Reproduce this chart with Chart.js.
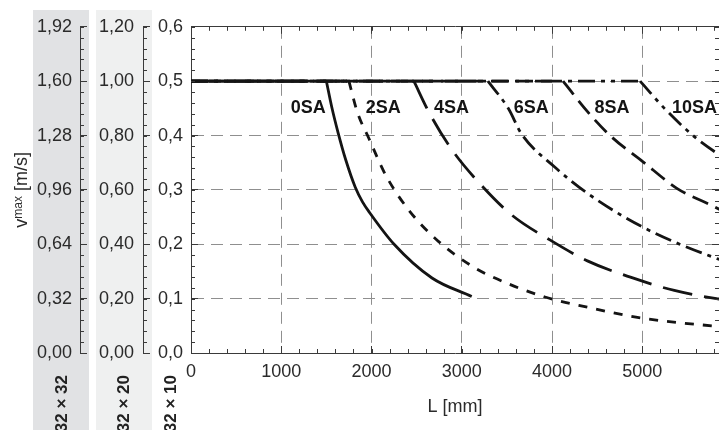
<!DOCTYPE html>
<html><head><meta charset="utf-8">
<script src="https://cdn.jsdelivr.net/npm/chart.js@4.4.1/dist/chart.umd.min.js"></script>
<style>
html,body{margin:0;padding:0;background:#fff;overflow:hidden;width:719px;height:430px;}
canvas{display:block;}
</style></head><body>
<canvas id="c" width="719" height="430"></canvas>
<script>
// ---------------- data ----------------
const SERIES_NAMES = ['0SA', '2SA', '4SA', '6SA', '8SA', '10SA'];
const L_0SA  = [0, 1500, 1560, 1630, 1715, 1820, 1900, 1980, 2250, 2670, 3110];
const V_0SA  = [0.5, 0.5, 0.452, 0.405, 0.355, 0.305, 0.278, 0.258, 0.20, 0.138, 0.104];
const L_2SA  = [0, 1750, 1841, 1970, 2161, 2412, 2724, 3111, 3313, 3920, 4400, 5000, 5822, 6000];
const V_2SA  = [0.5, 0.5, 0.444, 0.395, 0.326, 0.263, 0.208, 0.160, 0.142, 0.103, 0.084, 0.064, 0.049, 0.046];
const L_4SA  = [0, 2470, 2633, 2890, 3203, 3552, 3976, 4398, 4877, 5355, 5822, 6000];
const V_4SA  = [0.5, 0.5, 0.444, 0.374, 0.311, 0.254, 0.208, 0.169, 0.139, 0.115, 0.100, 0.096];
const L_6SA  = [0, 3290, 3515, 3662, 4030, 4398, 5000, 5822, 6000];
const V_6SA  = [0.5, 0.5, 0.450, 0.403, 0.342, 0.293, 0.232, 0.174, 0.165];
const L_8SA  = [0, 4122, 4398, 4656, 4998, 5392, 5760, 6000];
const V_8SA  = [0.5, 0.5, 0.443, 0.398, 0.353, 0.302, 0.272, 0.252];
const L_10SA = [0, 4976, 5245, 5576, 5822, 6000];
const V_10SA = [0.5, 0.5, 0.450, 0.398, 0.368, 0.350];

const X_TICK_VALUES  = [0, 1000, 2000, 3000, 4000, 5000];
const X_TICK_LABELS  = ['0', '1000', '2000', '3000', '4000', '5000'];
const Y_TICK_LABELS  = ['0,0', '0,1', '0,2', '0,3', '0,4', '0,5', '0,6'];
const YB_TICK_LABELS = ['0,00', '0,20', '0,40', '0,60', '0,80', '1,00', '1,20'];
const YA_TICK_LABELS = ['0,00', '0,32', '0,64', '0,96', '1,28', '1,60', '1,92'];
const SIZE_LABELS = ['32 × 32', '32 × 20', '32 × 10'];
const X_TITLE = 'L [mm]';
const Y_TITLE = ['v', 'max', ' [m/s]'];

// label anchors in data units (mm, m/s)
const LABEL_L = [1104, 1937, 2693, 3576, 4470, 5330];
const LABEL_V = 0.45;

// ---------------- styles ----------------
const FONT = '"Liberation Sans", Arial, Helvetica, sans-serif';
const TXT = '#2a2a2a';
const AXIS = '#3a3a3a';
const GRID = '#8f8f8f';
const INK = '#141414';
const DASHES = [[], [9, 9], [30, 12], [17, 6, 4, 6], [17, 8], [17, 6, 4, 6, 4, 6]];
const X_MAX = 5850;

function series(L, V) {
  const d = [{x: L[0], y: V[0]}, {x: L[1], y: V[1]}, {x: L[1], y: null}];
  for (let i = 1; i < L.length; i++) d.push({x: L[i], y: V[i]});
  return d;
}
const SERIES = [[L_0SA, V_0SA], [L_2SA, V_2SA], [L_4SA, V_4SA], [L_6SA, V_6SA], [L_8SA, V_8SA], [L_10SA, V_10SA]];

const datasets = SERIES.map((s, i) => ({
  label: SERIES_NAMES[i],
  data: series(s[0], s[1]),
  borderColor: INK,
  borderWidth: 2.8,
  borderDash: DASHES[i],
  pointRadius: 0,
  pointHoverRadius: 0,
  pointBorderWidth: 0,
  fill: false,
  spanGaps: false,
  cubicInterpolationMode: 'monotone',
  xAxisID: 'x', yAxisID: 'y'
}));

const fixW = w => s => { s.width = w; };
const fixH = h => s => { s.height = h; };
const xTicks = s => { s.ticks = X_TICK_VALUES.map(v => ({value: v})); };
const gridColorX = c => (c.tick && c.tick.value > 0) ? GRID : 'rgba(0,0,0,0)';
const gridColorY = c => (c.tick && c.index > 0 && c.index < 6) ? GRID : 'rgba(0,0,0,0)';
const tickFont = {family: FONT, size: 18};

function axisCommon(extra) {
  return Object.assign({
    type: 'linear',
    border: {display: true, color: AXIS, width: 1, dash: [12, 7]},
  }, extra);
}

const bands = {
  id: 'bands',
  beforeDraw(chart) {
    const ctx = chart.ctx;
    const a = chart.scales.yA, b = chart.scales.yB;
    ctx.save();
    ctx.fillStyle = '#e1e2e4';
    ctx.fillRect(a.right - 47, 10, 56, chart.height);
    ctx.fillStyle = '#eff0f0';
    ctx.fillRect(b.right - 47, 10, 56, chart.height);
    ctx.restore();
  }
};

const minorTicks = {
  id: 'minorTicks',
  afterDraw(chart) {
    const ctx = chart.ctx;
    ctx.save();
    ctx.strokeStyle = AXIS;
    ctx.lineWidth = 1;
    const defs = [['x', 200], ['x2', 200], ['y', 0.02], ['y2', 0.02], ['yA', 0.064], ['yB', 0.04]];
    for (const [id, step] of defs) {
      const s = chart.scales[id];
      const n = Math.floor((s.max - s.min) / step + 1e-6);
      for (let i = 0; i <= n; i++) {
        const v = s.min + i * step;
        const p = Math.round(s.getPixelForValue(v)) + 0.5;
        ctx.beginPath();
        if (id === 'x') { ctx.moveTo(p, s.top); ctx.lineTo(p, s.top - 4); }
        else if (id === 'x2') { ctx.moveTo(p, s.bottom); ctx.lineTo(p, s.bottom + 4); }
        else if (id === 'y2') { ctx.moveTo(s.left, p); ctx.lineTo(s.left - 4, p); }
        else { ctx.moveTo(s.right, p); ctx.lineTo(s.right + 4, p); }
        ctx.stroke();
      }
    }
    ctx.restore();
  }
};

const annotations = {
  id: 'annotations',
  afterDraw(chart) {
    const ctx = chart.ctx;
    const x = chart.scales.x, y = chart.scales.y;
    ctx.save();
    // series labels
    ctx.fillStyle = INK;
    ctx.font = 'bold 18px ' + FONT;
    ctx.textAlign = 'left';
    ctx.textBaseline = 'middle';
    SERIES_NAMES.forEach((n, i) => {
      ctx.fillText(n, x.getPixelForValue(LABEL_L[i]), y.getPixelForValue(LABEL_V));
    });
    // size labels under the axes
    const sc = [[chart.scales.yA, 18], [chart.scales.yB, 19], [chart.scales.y, 20]];
    ctx.font = 'bold 17px ' + FONT;
    ctx.fillStyle = '#222';
    ctx.textAlign = 'right';
    sc.forEach(([s, dx], i) => {
      ctx.save();
      ctx.translate(s.right - dx, chart.chartArea.bottom + 22);
      ctx.rotate(-Math.PI / 2);
      ctx.fillText(SIZE_LABELS[i], 0, 0);
      ctx.restore();
    });
    // y title with raised 'max'
    ctx.fillStyle = TXT;
    ctx.textAlign = 'left';
    ctx.textBaseline = 'alphabetic';
    const f1 = '18px ' + FONT, f2 = '12px ' + FONT;
    ctx.font = f1; const w1 = ctx.measureText(Y_TITLE[0]).width;
    ctx.font = f2; const w2 = ctx.measureText(Y_TITLE[1]).width;
    ctx.font = f1; const w3 = ctx.measureText(Y_TITLE[2]).width;
    const tot = w1 + w2 + w3;
    ctx.translate(27, (chart.chartArea.top + chart.chartArea.bottom) / 2);
    ctx.rotate(-Math.PI / 2);
    let px = -tot / 2;
    ctx.font = f1; ctx.fillText(Y_TITLE[0], px, 0); px += w1;
    ctx.font = f2; ctx.fillText(Y_TITLE[1], px, -5); px += w2;
    ctx.font = f1; ctx.fillText(Y_TITLE[2], px, 0);
    ctx.restore();
  }
};

new Chart(document.getElementById('c'), {
  type: 'line',
  data: {datasets},
  options: {
    responsive: false,
    animation: false,
    events: [],
    layout: {autoPadding: false, padding: {left: 0, right: -2, top: 20, bottom: 12}},
    plugins: {legend: {display: false}, tooltip: {enabled: false}, title: {display: false}},
    scales: {
      x: axisCommon({
        position: 'bottom', min: 0, max: X_MAX, afterFit: fixH(65), afterBuildTicks: xTicks,
        ticks: {autoSkip: false, maxRotation: 0, padding: 15,
                color: TXT, font: tickFont, callback: (v, i) => X_TICK_LABELS[i]},
        grid: {color: gridColorX, lineWidth: 1, tickLength: -7, tickColor: AXIS, tickWidth: 1},
        title: {display: true, text: X_TITLE, color: TXT, font: tickFont, padding: 0}
      }),
      x2: axisCommon({
        position: 'top', min: 0, max: X_MAX, afterFit: fixH(0), afterBuildTicks: xTicks,
        ticks: {display: false},
        grid: {drawOnChartArea: false, tickLength: -7, tickColor: AXIS, tickWidth: 1}
      }),
      y: axisCommon({
        position: 'left', weight: 0, min: 0, max: 0.6, afterFit: fixW(48),
        ticks: {stepSize: 0.1, padding: 15, color: TXT, font: tickFont, callback: (v, i) => Y_TICK_LABELS[i]},
        grid: {color: gridColorY, lineWidth: 1, tickLength: -7, tickColor: AXIS, tickWidth: 1}
      }),
      y2: axisCommon({
        position: 'right', min: 0, max: 0.6, afterFit: fixW(0),
        ticks: {stepSize: 0.1, display: false},
        grid: {drawOnChartArea: false, tickLength: -7, tickColor: AXIS, tickWidth: 1}
      }),
      yB: axisCommon({
        position: 'left', weight: 1, min: 0, max: 1.2, afterFit: fixW(63),
        ticks: {stepSize: 0.2, padding: 16, color: TXT, font: tickFont, callback: (v, i) => YB_TICK_LABELS[i]},
        grid: {drawOnChartArea: false, tickLength: -7, tickColor: AXIS, tickWidth: 1}
      }),
      yA: axisCommon({
        position: 'left', weight: 2, min: 0, max: 1.92, afterFit: fixW(80),
        ticks: {stepSize: 0.32, padding: 15, color: TXT, font: tickFont, callback: (v, i) => YA_TICK_LABELS[i]},
        grid: {drawOnChartArea: false, tickLength: -7, tickColor: AXIS, tickWidth: 1}
      })
    }
  },
  plugins: [bands, minorTicks, annotations]
});
</script>
</body></html>
